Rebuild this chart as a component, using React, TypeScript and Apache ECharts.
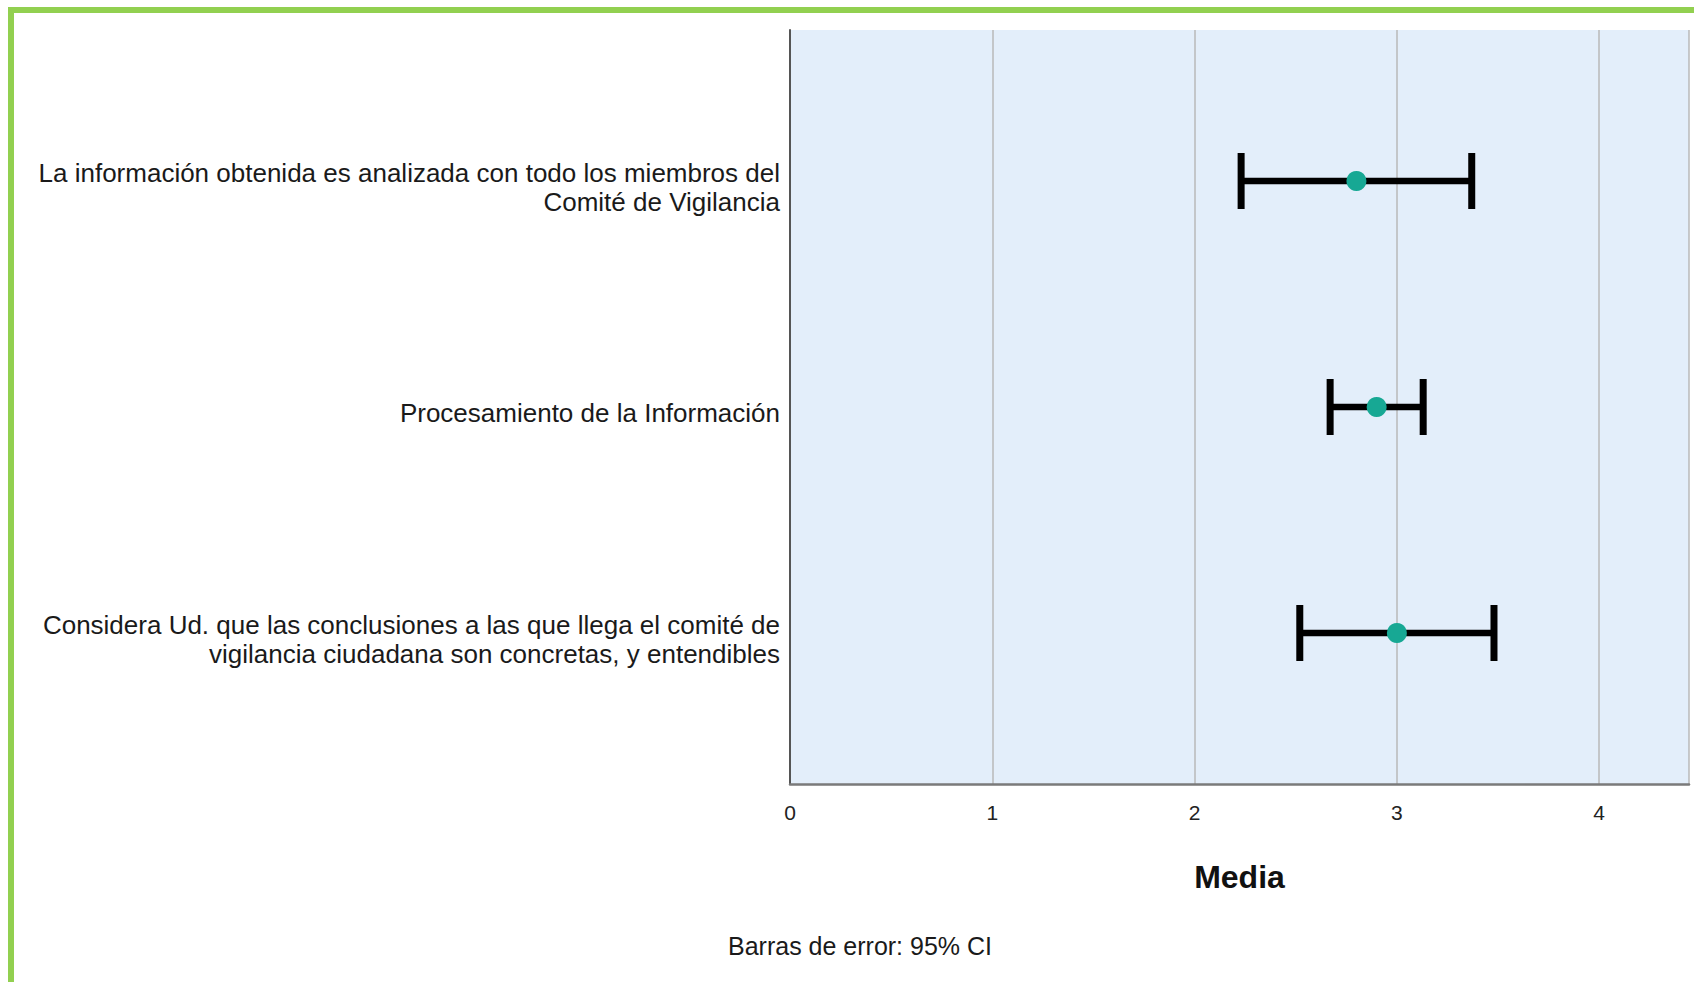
import React, { useEffect, useRef } from "react";
import * as echarts from "echarts";

const categories: string[] = [
  "La información obtenida es analizada con todo los miembros del\nComité de Vigilancia",
  "Procesamiento de la Información",
  "Considera Ud. que las conclusiones a las que llega el comité de\nvigilancia ciudadana son concretas, y entendibles",
];
const means: number[] = [2.8, 2.9, 3.0];
const lowerCI: number[] = [2.23, 2.67, 2.52];
const upperCI: number[] = [3.37, 3.13, 3.48];
const xTicks: number[] = [0, 1, 2, 3, 4];
const xMax = 4.444;
const axisName = "Media";
const footnote = "Barras de error: 95% CI";

const FONT = '"Liberation Sans", Arial, sans-serif';

export default function App() {
  const ref = useRef<HTMLDivElement>(null);
  useEffect(() => {
    document.body.style.margin = "0";
    if (!ref.current) return;
    const chart = echarts.init(ref.current, null, { renderer: "svg" });
    const plotLeft = 790;
    const plotRight = 5;
    chart.setOption({
      animation: false,
      backgroundColor: "#ffffff",
      grid: [
        {
          left: plotLeft,
          right: plotRight,
          top: 30,
          height: 754,
          show: true,
          backgroundColor: "#E3EEFA",
          borderWidth: 0,
          containLabel: false,
          outerBoundsMode: "none",
        },
        {
          left: plotLeft,
          right: plotRight,
          top: 74,
          height: 678,
          containLabel: false,
          outerBoundsMode: "none",
        },
        {
          left: plotLeft,
          right: plotRight,
          top: 68,
          height: 678,
          containLabel: false,
          outerBoundsMode: "none",
        },
      ],
      xAxis: [
        {
          gridIndex: 0,
          type: "value",
          min: 0,
          max: xMax,
          interval: 1,
          axisLine: { show: true, lineStyle: { color: "#7a7a7a", width: 2.5 } },
          axisTick: { show: false },
          splitLine: { show: true, lineStyle: { color: "#B8B8B8", width: 1.5 } },
          axisLabel: {
            showMaxLabel: false,
            margin: 18,
            fontFamily: FONT,
            fontSize: 21,
            color: "#222",
            formatter: (v: number) => (xTicks.indexOf(v) >= 0 ? String(v) : ""),
          },
          name: axisName,
          nameLocation: "middle",
          nameGap: 77,
          nameTextStyle: {
            fontFamily: FONT,
            fontSize: 32,
            fontWeight: "bold",
            color: "#111",
          },
        },
        { gridIndex: 1, type: "value", min: 0, max: xMax, show: false },
        { gridIndex: 2, type: "value", min: 0, max: xMax, show: false },
      ],
      yAxis: [
        {
          gridIndex: 0,
          type: "value",
          min: 0,
          max: 1,
          axisLine: { show: true, lineStyle: { color: "#555", width: 2 } },
          axisTick: { show: false },
          axisLabel: { show: false },
          splitLine: { show: false },
        },
        {
          gridIndex: 1,
          type: "category",
          inverse: true,
          data: categories,
          axisLine: { show: false },
          axisTick: { show: false },
          splitLine: { show: false },
          axisLabel: {
            margin: 10,
            fontFamily: FONT,
            fontSize: 26,
            lineHeight: 29,
            color: "#1a1a1a",
          },
        },
        {
          gridIndex: 2,
          type: "category",
          inverse: true,
          data: categories,
          show: false,
        },
      ],
      series: [
        {
          type: "custom",
          xAxisIndex: 2,
          yAxisIndex: 2,
          z: 3,
          data: categories.map((_, i) => [i, lowerCI[i], upperCI[i]]),
          encode: { x: [1, 2], y: 0 },
          renderItem: (params: any, api: any) => {
            const lo = api.coord([api.value(1), api.value(0)]);
            const hi = api.coord([api.value(2), api.value(0)]);
            const h = 28;
            const st = { stroke: "#000", lineWidth: 6.5 };
            const cap = { stroke: "#000", lineWidth: 7 };
            return {
              type: "group",
              children: [
                { type: "line", shape: { x1: lo[0], y1: lo[1], x2: hi[0], y2: hi[1] }, style: st },
                { type: "line", shape: { x1: lo[0], y1: lo[1] - h, x2: lo[0], y2: lo[1] + h }, style: cap },
                { type: "line", shape: { x1: hi[0], y1: hi[1] - h, x2: hi[0], y2: hi[1] + h }, style: cap },
              ],
            };
          },
        },
        {
          type: "scatter",
          xAxisIndex: 2,
          yAxisIndex: 2,
          z: 4,
          symbol: "circle",
          symbolSize: 20,
          itemStyle: { color: "#17A894", opacity: 1 },
          data: means.map((m, i) => [m, i]),
        },
      ],
      graphic: [
        {
          type: "rect",
          z: 100,
          shape: { x: 11, y: 10, width: 2000, height: 2000 },
          style: { fill: "none", stroke: "#92D050", lineWidth: 6 },
          silent: true,
        },
        {
          type: "text",
          x: 860,
          y: 946,
          style: {
            text: footnote,
            font: `25px ${FONT}`,
            fill: "#1a1a1a",
            textAlign: "center",
            textVerticalAlign: "middle",
          },
        },
      ],
    });
    return () => chart.dispose();
  }, []);
  return <div ref={ref} style={{ width: 1694, height: 982 }} />;
}
